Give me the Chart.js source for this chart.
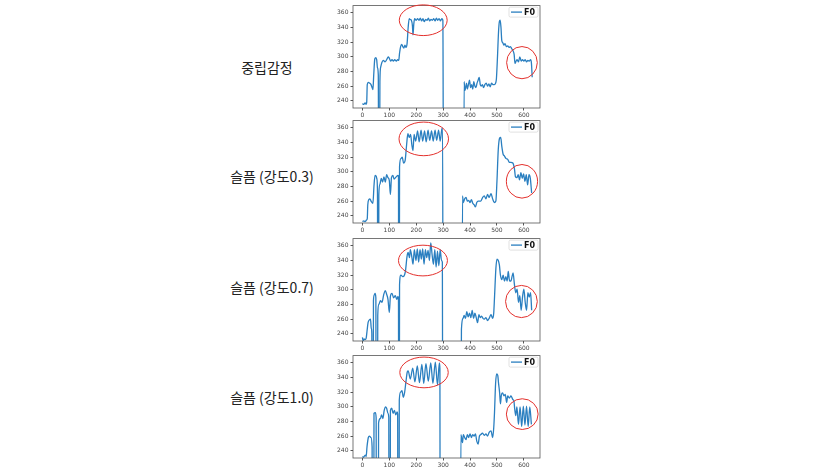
<!DOCTYPE html>
<html>
<head>
<meta charset="utf-8">
<script src="https://cdn.jsdelivr.net/npm/chart.js@4.4.0/dist/chart.umd.min.js"></script>
<style>
  body { margin: 0; background: #fff; width: 830px; height: 467px; overflow: hidden; position: relative; }
  .lab { position: absolute; font-family: "Noto Sans CJK KR", sans-serif; font-size: 14px; color: #222;
         transform: translate(-50%, -50%); white-space: nowrap; }
  canvas { position: absolute; left: 330px; }
</style>
</head>
<body>
<div class="lab" style="left:267px;top:67px">중립감정</div>
<div class="lab" style="left:272px;top:176px">슬픔 (강도0.3)</div>
<div class="lab" style="left:272px;top:287px">슬픔 (강도0.7)</div>
<div class="lab" style="left:272px;top:397px">슬픔 (강도1.0)</div>

<canvas id="c0" width="215" height="120" style="top:0px"></canvas>
<canvas id="c1" width="215" height="120" style="top:115px"></canvas>
<canvas id="c2" width="215" height="120" style="top:233px"></canvas>
<canvas id="c3" width="215" height="120" style="top:350px"></canvas>

<script>
// F0 contours, [frame, Hz]; 0 = unvoiced
const neutral = [
  [0,236],[5,235],[10,237],[14,235],[16,238],[18,262],[22,265],[27,264],[32,262],[36,258],[39,255],
  [42,275],[46,297],[50,299],[53,296],[56,285],[59,275],[61,0],[63,0],[65,266],[68,286],[72,292],
  [78,295],[84,293],[90,296],[96,300],[100,298],[105,294],[110,296],[115,294],[120,296],[126,294],
  [131,296],[135,295],[138,305],[142,314],[146,317],[150,314],[154,312],[158,316],[162,313],[166,318],
  [170,340],[174,352],[178,351],[182,350],[186,342],[188,330],[191,345],[194,352],[200,350],[205,352],
  [210,350],[215,353],[220,349],[225,352],[230,348],[235,351],[240,350],[245,353],[250,349],[255,351],
  [260,350],[265,352],[270,349],[275,353],[280,350],[285,352],[290,349],[295,352],[299,350],[302,0],
  [376,0],[378,266],[381,254],[384,258],[387,264],[390,256],[394,262],[398,268],[402,258],[406,262],
  [410,256],[414,266],[418,260],[422,258],[426,264],[430,268],[434,272],[438,262],[442,260],[446,262],
  [450,258],[455,262],[460,264],[465,260],[470,263],[475,259],[480,264],[485,262],[490,262],[495,264],
  [498,270],[502,300],[506,335],[509,348],[512,350],[515,340],[518,322],[522,319],[526,316],[530,318],
  [535,314],[540,315],[545,313],[550,314],[555,311],[560,308],[564,303],[567,291],[571,294],[575,296],
  [580,293],[585,300],[590,294],[595,296],[600,294],[605,296],[610,293],[615,295],[620,294],[625,296],
  [628,292],[631,272]
];
const sad03 = [
  [0,232],[5,233],[10,232],[15,234],[18,236],[20,255],[24,262],[28,263],[32,260],[36,258],[39,257],
  [43,281],[47,295],[51,294],[54,290],[56,270],[57,0],[60,0],[61,268],[65,283],[70,291],[75,286],
  [80,293],[85,286],[90,296],[95,292],[100,288],[104,269],[108,292],[113,295],[118,290],[123,292],
  [128,294],[132,295],[134,294],[135,0],[137,0],[138,307],[143,318],[148,320],[153,312],[159,316],
  [164,336],[169,352],[174,347],[179,351],[184,336],[188,329],[192,351],[198,342],[205,356],[211,341],
  [218,357],[224,342],[231,356],[237,341],[244,357],[250,343],[257,356],[263,342],[270,357],[276,343],
  [283,357],[289,342],[295,358],[298,360],[300,0],
  [370,0],[372,267],[375,258],[380,263],[385,265],[390,260],[395,261],[400,258],[405,262],[410,257],
  [415,255],[420,252],[425,258],[430,260],[434,260],[440,260],[447,265],[453,267],[459,263],[465,269],
  [471,265],[478,270],[484,263],[490,258],[496,260],[500,287],[505,331],[510,346],[514,347],[518,335],
  [523,324],[527,322],[534,318],[540,317],[546,313],[552,313],[559,312],[565,304],[569,293],[574,292],
  [579,296],[584,289],[589,299],[594,291],[599,297],[604,287],[609,296],[614,282],[619,296],[624,291],
  [629,271]
];
const sad07 = [
  [0,235],[3,230],[6,233],[10,232],[14,234],[17,243],[21,255],[24,258],[30,260],[33,247],[35,240],
  [36,0],[40,0],[41,285],[44,293],[47,295],[50,289],[51,0],[56,0],[57,265],[61,280],[67,285],[73,283],
  [79,293],[85,299],[90,294],[95,287],[100,269],[104,291],[110,295],[116,289],[122,292],[128,287],
  [132,291],[134,288],[135,0],[137,0],[138,307],[143,320],[150,318],[156,320],[160,326],[166,346],
  [170,351],[175,344],[178,355],[184,344],[188,335],[193,355],[199,340],[204,356],[209,338],[214,355],
  [219,342],[224,356],[229,335],[234,355],[239,344],[244,354],[249,340],[254,364],[259,348],[264,335],
  [269,355],[274,331],[279,353],[284,333],[289,355],[294,340],[297,338],[299,0],
  [366,0],[368,246],[374,261],[378,265],[383,261],[388,270],[393,263],[398,268],[403,262],[408,272],
  [413,261],[418,268],[423,262],[428,255],[433,266],[438,262],[443,264],[448,261],[453,260],[459,262],
  [465,258],[471,261],[478,266],[484,261],[488,268],[491,290],[496,329],[500,342],[505,340],[509,334],
  [513,320],[518,314],[523,320],[528,312],[533,318],[538,312],[542,325],[547,312],[552,312],[556,318],
  [560,323],[565,307],[570,296],[575,301],[580,283],[585,292],[590,272],[595,290],[600,301],[605,283],
  [610,272],[615,296],[620,290],[625,296],[629,272]
];
const sad10 = [
  [0,232],[4,231],[8,233],[11,234],[14,232],[17,245],[22,258],[26,260],[32,258],[36,245],[37,0],[42,0],
  [43,291],[48,292],[51,285],[52,0],[59,0],[60,278],[67,284],[71,289],[76,284],[81,295],[86,300],
  [90,298],[95,291],[98,285],[99,0],[103,0],[104,295],[109,298],[114,291],[119,295],[124,289],
  [129,293],[131,290],[132,0],[136,0],[137,309],[142,320],[147,322],[152,313],[157,320],[162,335],
  [167,348],[170,349],[178,338],[187,353],[195,334],[204,356],[212,333],[221,358],[228,332],[236,359],
  [245,335],[254,360],[262,332],[271,361],[279,330],[286,360],[288,352],[289,0],
  [364,0],[366,262],[372,251],[375,262],[380,258],[385,255],[390,262],[395,258],[400,263],[405,258],
  [410,262],[415,260],[420,263],[425,253],[430,249],[435,260],[440,262],[446,264],[453,261],[459,263],
  [465,260],[471,265],[478,267],[484,258],[488,271],[491,293],[495,332],[499,345],[503,343],[506,332],
  [510,319],[513,304],[516,315],[521,319],[526,315],[531,317],[536,306],[540,315],[546,312],[552,315],
  [559,310],[563,308],[566,297],[570,288],[574,300],[580,276],[586,300],[592,273],[598,301],[604,275],
  [610,301],[616,273],[622,300],[628,276]
];

const xTicks = [0, 100, 200, 300, 400, 500, 600];
const yTicks = [240, 260, 280, 300, 320, 340, 360];

// red circles, [centerFrame, centerHz, radiusFrames, radiusHz]
const neutralMarks = [[226, 350, 89, 21], [593, 292, 57, 22]];
const sad03Marks   = [[228, 345, 92, 23], [593, 287, 58, 23]];
const sad07Marks   = [[225, 340, 91, 21], [591, 284, 59, 22]];
const sad10Marks   = [[229, 347, 90, 21], [594, 290, 59, 21]];

const decor = {
  id: "decor",
  afterDraw(chart, args, opts) {
    const ctx = chart.ctx, a = chart.chartArea;
    const xs = chart.scales.x, ys = chart.scales.y;
    ctx.save();
    // frame
    ctx.strokeStyle = "#555";
    ctx.lineWidth = 0.8;
    ctx.strokeRect(a.left, a.top, a.right - a.left, a.bottom - a.top);
    // legend
    const lx = a.right - 31, ly = a.top + 1.5;
    ctx.fillStyle = "rgba(255,255,255,0.85)";
    ctx.strokeStyle = "#ccc";
    ctx.lineWidth = 0.6;
    ctx.beginPath();
    ctx.roundRect(lx, ly, 29, 10, 1.5);
    ctx.fill();
    ctx.stroke();
    ctx.strokeStyle = "#2a7fc0";
    ctx.lineWidth = 1.3;
    ctx.beginPath();
    ctx.moveTo(lx + 2, ly + 5);
    ctx.lineTo(lx + 13, ly + 5);
    ctx.stroke();
    ctx.fillStyle = "#111";
    ctx.font = "bold 8px 'DejaVu Sans'";
    ctx.textBaseline = "middle";
    ctx.fillText("F0", lx + 15, ly + 5.5);
    // circles
    ctx.strokeStyle = "#e3302c";
    ctx.lineWidth = 1;
    for (const m of opts.marks) {
      const cx = xs.getPixelForValue(m[0]), cy = ys.getPixelForValue(m[1]);
      const rx = Math.abs(xs.getPixelForValue(m[0] + m[2]) - cx);
      const ry = Math.abs(ys.getPixelForValue(m[1] + m[3]) - cy);
      ctx.beginPath();
      ctx.ellipse(cx, cy, rx, ry, 0, 0, Math.PI * 2);
      ctx.stroke();
    }
    ctx.restore();
  }
};

function f0Chart(id, series, marks) {
  const tickFont = { family: "DejaVu Sans", size: 6 };
  new Chart(document.getElementById(id), {
    type: "line",
    data: {
      datasets: [{
        label: "F0",
        data: series,
        borderColor: "#2a7fc0",
        borderWidth: 1.3,
        pointRadius: 0,
        cubicInterpolationMode: "monotone"
      }]
    },
    options: {
      responsive: false,
      animation: false,
      layout: { padding: { top: 2, right: 5, left: 0, bottom: 0 } },
      plugins: { legend: { display: false }, tooltip: { enabled: false }, decor: { marks } },
      scales: {
        x: {
          type: "linear", min: -35, max: 660,
          afterBuildTicks: s => { s.ticks = xTicks.map(v => ({ value: v })); },
          afterFit: s => { s.height = 12; },
          ticks: { font: tickFont, color: "#444", padding: 1, maxRotation: 0 },
          grid: { drawOnChartArea: false, tickLength: 2.5, color: "#555" },
          border: { display: false }
        },
        y: {
          min: 230, max: 370,
          afterBuildTicks: s => { s.ticks = yTicks.map(v => ({ value: v })); },
          afterFit: s => { s.width = 23; },
          ticks: { font: tickFont, color: "#444", padding: 2 },
          grid: { drawOnChartArea: false, tickLength: 2.5, color: "#555" },
          border: { display: false }
        }
      }
    },
    plugins: [decor]
  });
}

f0Chart("c0", neutral, neutralMarks);
f0Chart("c1", sad03, sad03Marks);
f0Chart("c2", sad07, sad07Marks);
f0Chart("c3", sad10, sad10Marks);
</script>
</body>
</html>
